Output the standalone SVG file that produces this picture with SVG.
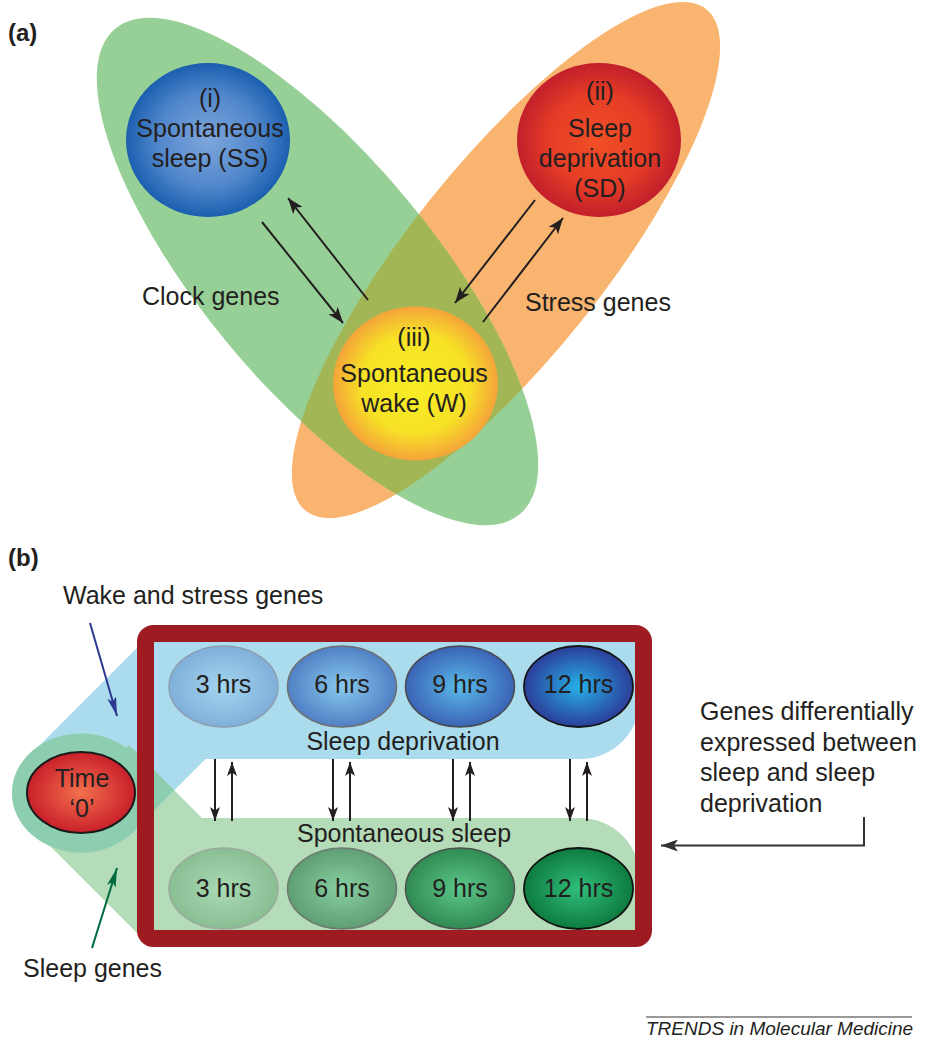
<svg xmlns="http://www.w3.org/2000/svg" width="926" height="1050" viewBox="0 0 926 1050">
<style>
  .t { font-family: "Liberation Sans", Arial, Helvetica, sans-serif; font-size: 25px; fill: #231f20; }
  .c { text-anchor: middle; }
  .b { font-weight: bold; font-size: 24px; }
  .ln { stroke: #231f20; stroke-width: 2; fill: none; }
  .sd { fill: #aadcee; }
  .ss { fill: #b4dcb9; }
</style>
<defs>
  <marker id="ah" markerUnits="userSpaceOnUse" markerWidth="18" markerHeight="12" refX="16" refY="6" orient="auto">
    <path d="M0,0 L16,6 L0,12 L4,6 Z" fill="#231f20"/>
  </marker>
  <marker id="ahs" markerUnits="userSpaceOnUse" markerWidth="15" markerHeight="10" refX="14" refY="5" orient="auto">
    <path d="M0,0 L14,5 L0,10 L3.5,5 Z" fill="#231f20"/>
  </marker>
  <marker id="ahg" markerUnits="userSpaceOnUse" markerWidth="18" markerHeight="12" refX="17" refY="6" orient="auto">
    <path d="M0,0 L17,6 L0,12 L4,6 Z" fill="#333333"/>
  </marker>
  <marker id="ahb" markerUnits="userSpaceOnUse" markerWidth="20" markerHeight="10" refX="19" refY="4.5" orient="auto">
    <path d="M0,0 L19,4.5 L0,9 L4,4.5 Z" fill="#2b3990"/>
  </marker>
  <marker id="ahgr" markerUnits="userSpaceOnUse" markerWidth="20" markerHeight="10" refX="19" refY="4.5" orient="auto">
    <path d="M0,0 L19,4.5 L0,9 L4,4.5 Z" fill="#006b3f"/>
  </marker>
  <radialGradient id="gBlue"><stop offset="0" stop-color="#7ea6dc"/><stop offset="0.6" stop-color="#5288cc"/><stop offset="1" stop-color="#1b5fb0"/></radialGradient>
  <radialGradient id="gRed"><stop offset="0" stop-color="#f04f26"/><stop offset="0.6" stop-color="#e53d26"/><stop offset="1" stop-color="#c21f2b"/></radialGradient>
  <radialGradient id="gYel"><stop offset="0" stop-color="#f8ee24"/><stop offset="0.65" stop-color="#f7e126"/><stop offset="1" stop-color="#f4a43a"/></radialGradient>
  <radialGradient id="gT0"><stop offset="0" stop-color="#f3704e"/><stop offset="1" stop-color="#c9202a"/></radialGradient>
  <radialGradient id="gB3"><stop offset="0" stop-color="#a4d5f0"/><stop offset="1" stop-color="#80b0da"/></radialGradient>
  <radialGradient id="gB6"><stop offset="0" stop-color="#88c9ee"/><stop offset="1" stop-color="#5080c4"/></radialGradient>
  <radialGradient id="gB9"><stop offset="0" stop-color="#5bbaea"/><stop offset="1" stop-color="#3a63b6"/></radialGradient>
  <radialGradient id="gB12"><stop offset="0" stop-color="#27b1e9"/><stop offset="1" stop-color="#2b3e99"/></radialGradient>
  <radialGradient id="gG3"><stop offset="0" stop-color="#aadbb4"/><stop offset="1" stop-color="#89be93"/></radialGradient>
  <radialGradient id="gG6"><stop offset="0" stop-color="#88d0a2"/><stop offset="1" stop-color="#5f9e73"/></radialGradient>
  <radialGradient id="gG9"><stop offset="0" stop-color="#5dc688"/><stop offset="1" stop-color="#308b53"/></radialGradient>
  <radialGradient id="gG12"><stop offset="0" stop-color="#30bf7b"/><stop offset="1" stop-color="#0e7b3f"/></radialGradient>
  <clipPath id="clipOrange">
    <ellipse cx="506" cy="260" rx="321" ry="97" transform="rotate(-51.4 506 260)"/>
  </clipPath>
  <path id="blueBand" d="M36.5,748.5 L155,630 L610,628 A30,30 0 0 1 640,658 L640,699 A60,60 0 0 1 580,759 L205.5,759 L126.25,838.25 Z"/>
  <path id="greenBand" d="M129,745 L202,818 L580,818 A60,60 0 0 1 640,878 L640,924 A12,12 0 0 1 628,936 L140,936 L39,835 Z"/>
  <ellipse id="cap" cx="81" cy="793" rx="69" ry="59.5"/>
  <clipPath id="clipBlue">
    <use href="#blueBand"/>
    <use href="#cap"/>
  </clipPath>
</defs>
<rect width="926" height="1050" fill="#ffffff"/>

<!-- Panel (a) -->
<g id="panel-a-sets">
  <ellipse id="stress-set" cx="506" cy="260" rx="321" ry="97" transform="rotate(-51.4 506 260)" fill="#f9b470"/>
  <ellipse id="clock-set" cx="317.5" cy="271.5" rx="316" ry="115" transform="rotate(50.2 317.5 271.5)" fill="#97d096"/>
  <g id="overlap" clip-path="url(#clipOrange)">
    <ellipse cx="317.5" cy="271.5" rx="316" ry="115" transform="rotate(50.2 317.5 271.5)" fill="#a2b655"/>
  </g>
</g>
<text class="t b" x="8" y="41">(a)</text>

<g id="node-ss">
  <ellipse cx="208" cy="140" rx="82" ry="77" fill="url(#gBlue)"/>
  <text class="t c" x="210" y="107">(i)</text>
  <text class="t c" x="210" y="137">Spontaneous</text>
  <text class="t c" x="210" y="167">sleep (SS)</text>
</g>
<g id="node-sd">
  <ellipse cx="599" cy="140" rx="82" ry="77" fill="url(#gRed)"/>
  <text class="t c" x="600" y="100">(ii)</text>
  <text class="t c" x="600" y="137">Sleep</text>
  <text class="t c" x="600" y="167">deprivation</text>
  <text class="t c" x="600" y="197">(SD)</text>
</g>
<g id="node-w">
  <ellipse cx="415.5" cy="383.5" rx="82.5" ry="77" fill="url(#gYel)"/>
  <text class="t c" x="414" y="346">(iii)</text>
  <text class="t c" x="414" y="382">Spontaneous</text>
  <text class="t c" x="414" y="412">wake (W)</text>
</g>
<text class="t" x="142" y="305">Clock genes</text>
<text class="t" x="525" y="311">Stress genes</text>

<g id="connectors-a">
  <line class="ln" x1="262" y1="222" x2="343" y2="323" marker-end="url(#ah)"/>
  <line class="ln" x1="368" y1="300" x2="288" y2="198" marker-end="url(#ah)"/>
  <line class="ln" x1="535" y1="200" x2="455" y2="303" marker-end="url(#ah)"/>
  <line class="ln" x1="483" y1="322" x2="563" y2="218" marker-end="url(#ah)"/>
</g>

<!-- Panel (b) -->
<text class="t b" x="8" y="566">(b)</text>
<text class="t" x="63" y="604">Wake and stress genes</text>
<text class="t" x="23" y="977">Sleep genes</text>

<g id="bands">
  <g id="sd-band" class="sd">
    <use href="#blueBand"/>
    <use href="#cap"/>
  </g>
  <g id="ss-band" class="ss">
    <use href="#greenBand"/>
    <use href="#cap"/>
  </g>
  <g id="band-overlap" fill="#8dcdb0" clip-path="url(#clipBlue)">
    <use href="#greenBand"/>
    <use href="#cap"/>
  </g>
</g>

<g id="node-time0">
  <ellipse cx="81" cy="792.5" rx="54" ry="40.5" fill="url(#gT0)" stroke="#1a1a1a" stroke-width="2"/>
  <text class="t c" x="82" y="787">Time</text>
  <text class="t c" x="82" y="817">‘0’</text>
</g>

<g id="sd-row">
  <g id="sd-3"><ellipse cx="223.5" cy="686.5" rx="54.5" ry="40.5" fill="url(#gB3)" stroke="#8c9fb2" stroke-width="1.5"/><text class="t c" x="223.5" y="693">3 hrs</text></g>
  <g id="sd-6"><ellipse cx="342" cy="686.5" rx="54.5" ry="40.5" fill="url(#gB6)" stroke="#707070" stroke-width="1.5"/><text class="t c" x="342" y="693">6 hrs</text></g>
  <g id="sd-9"><ellipse cx="460" cy="686.5" rx="54.5" ry="40.5" fill="url(#gB9)" stroke="#4a4a4a" stroke-width="1.5"/><text class="t c" x="460" y="693">9 hrs</text></g>
  <g id="sd-12"><ellipse cx="578.5" cy="686.5" rx="54.5" ry="40.5" fill="url(#gB12)" stroke="#151515" stroke-width="1.8"/><text class="t c" x="578.5" y="693">12 hrs</text></g>
  <text class="t c" x="403" y="750">Sleep deprivation</text>
</g>
<g id="ss-row">
  <g id="ss-3"><ellipse cx="223.5" cy="888.5" rx="54.5" ry="40.5" fill="url(#gG3)" stroke="#9aaa9d" stroke-width="1.5"/><text class="t c" x="223.5" y="897">3 hrs</text></g>
  <g id="ss-6"><ellipse cx="342" cy="888.5" rx="54.5" ry="40.5" fill="url(#gG6)" stroke="#6f7a70" stroke-width="1.5"/><text class="t c" x="342" y="897">6 hrs</text></g>
  <g id="ss-9"><ellipse cx="460" cy="888.5" rx="54.5" ry="40.5" fill="url(#gG9)" stroke="#4a524c" stroke-width="1.5"/><text class="t c" x="460" y="897">9 hrs</text></g>
  <g id="ss-12"><ellipse cx="578.5" cy="888.5" rx="54.5" ry="40.5" fill="url(#gG12)" stroke="#111111" stroke-width="1.8"/><text class="t c" x="578.5" y="897">12 hrs</text></g>
  <text class="t c" x="404" y="842">Spontaneous sleep</text>
</g>

<g id="frame">
  <rect x="145.5" y="633.5" width="498" height="305" rx="8" ry="8" fill="none" stroke="#9d1b21" stroke-width="17"/>
</g>

<g id="label-diff">
  <text class="t" x="700" y="720">Genes differentially</text>
  <text class="t" x="700" y="750.5">expressed between</text>
  <text class="t" x="700" y="781">sleep and sleep</text>
  <text class="t" x="700" y="811.5">deprivation</text>
</g>

<g id="connectors-b">
  <line class="ln" x1="215" y1="759" x2="215" y2="821" marker-end="url(#ahs)"/>
  <line class="ln" x1="232" y1="821" x2="232" y2="762" marker-end="url(#ahs)"/>
  <line class="ln" x1="333" y1="759" x2="333" y2="821" marker-end="url(#ahs)"/>
  <line class="ln" x1="350" y1="821" x2="350" y2="762" marker-end="url(#ahs)"/>
  <line class="ln" x1="453" y1="759" x2="453" y2="821" marker-end="url(#ahs)"/>
  <line class="ln" x1="470" y1="821" x2="470" y2="762" marker-end="url(#ahs)"/>
  <line class="ln" x1="570" y1="759" x2="570" y2="821" marker-end="url(#ahs)"/>
  <line class="ln" x1="587" y1="821" x2="587" y2="762" marker-end="url(#ahs)"/>
  <polyline points="864,817 864,845.5 661,845.5" fill="none" stroke="#333333" stroke-width="2" marker-end="url(#ahg)"/>
  <line x1="90" y1="623" x2="117" y2="716" stroke="#2b3990" stroke-width="2" marker-end="url(#ahb)"/>
  <line x1="92" y1="948" x2="117" y2="868" stroke="#006b3f" stroke-width="2" marker-end="url(#ahgr)"/>
</g>

<g id="credit">
  <line x1="646" y1="1017" x2="912" y2="1017" stroke="#333333" stroke-width="1"/>
  <text x="646" y="1035" font-family="Liberation Sans, Arial, sans-serif" font-style="italic" font-size="19" fill="#231f20">TRENDS in Molecular Medicine</text>
</g>
</svg>
